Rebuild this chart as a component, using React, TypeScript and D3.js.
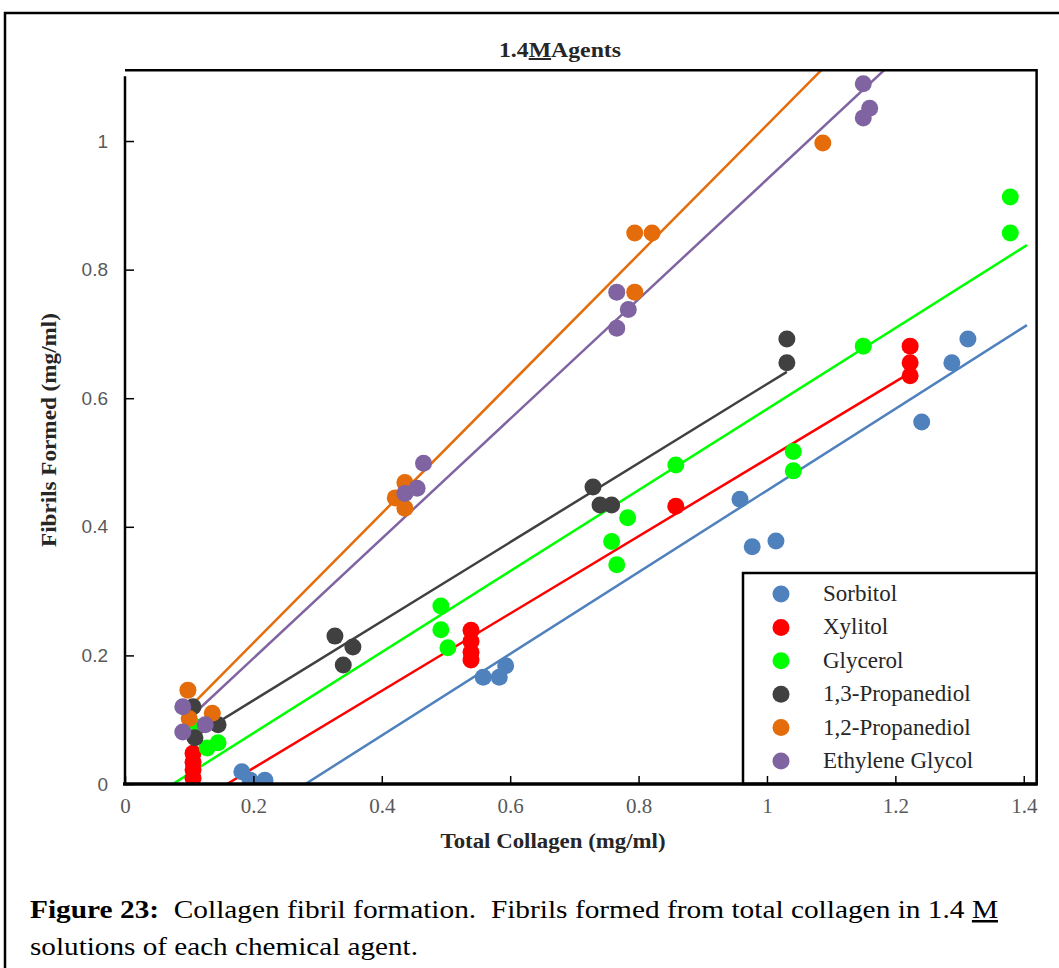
import { useEffect, useRef } from "react";
import * as d3 from "d3";

// series in legend order
const seriesNames = [
  "Sorbitol",
  "Xylitol",
  "Glycerol",
  "1,3-Propanediol",
  "1,2-Propanediol",
  "Ethylene Glycol",
];
const seriesColors = ["#4F81BD", "#FF0000", "#00FF00", "#404040", "#E46C0A", "#8064A2"];

const sorbitolX = [0.182, 0.195, 0.218, 0.558, 0.583, 0.593, 0.958, 0.977, 1.014, 1.241, 1.288, 1.313];
const sorbitolY = [0.019, 0.006, 0.006, 0.166, 0.166, 0.184, 0.443, 0.369, 0.378, 0.563, 0.655, 0.692];

const xylitolX = [0.106, 0.106, 0.106, 0.106, 0.539, 0.539, 0.539, 0.539, 0.858, 1.223, 1.223, 1.223];
const xylitolY = [0.048, 0.034, 0.022, 0.009, 0.239, 0.222, 0.205, 0.193, 0.432, 0.681, 0.655, 0.635];

const glycerolX = [0.109, 0.128, 0.145, 0.492, 0.492, 0.503, 0.758, 0.783, 0.766, 0.858, 1.041, 1.041, 1.15, 1.379, 1.379];
const glycerolY = [0.089, 0.056, 0.064, 0.277, 0.24, 0.212, 0.377, 0.414, 0.341, 0.496, 0.517, 0.487, 0.681, 0.913, 0.857];

const prop13X = [0.106, 0.109, 0.145, 0.327, 0.355, 0.34, 0.729, 0.74, 0.758, 1.031, 1.031];
const prop13Y = [0.12, 0.072, 0.092, 0.23, 0.213, 0.185, 0.462, 0.434, 0.434, 0.692, 0.655];

const prop12X = [0.098, 0.1, 0.136, 0.421, 0.436, 0.436, 0.794, 0.821, 0.794, 1.087];
const prop12Y = [0.146, 0.102, 0.11, 0.445, 0.469, 0.429, 0.857, 0.857, 0.765, 0.997];

const ethyleneX = [0.09, 0.09, 0.125, 0.436, 0.455, 0.465, 0.766, 0.784, 0.766, 1.15, 1.16, 1.15];
const ethyleneY = [0.12, 0.081, 0.092, 0.452, 0.46, 0.499, 0.765, 0.738, 0.709, 1.089, 1.051, 1.036];

// trendlines y = slope * x + intercept, drawn from start to end
const trendSlopes = [0.635, 0.601, 0.63, 0.615, 1.007, 0.931];
const trendIntercepts = [-0.1785, -0.0955, -0.047, 0.007, 0.018, 0.0093];
const trendStart = [0.281, 0.159, 0.075, 0.112, 0.112, 0.117];
const trendEnd = [1.405, 1.215, 1.405, 1.031, 1.42, 1.42];

const xTicks = [0, 0.2, 0.4, 0.6, 0.8, 1, 1.2, 1.4];
const yTicks = [0, 0.2, 0.4, 0.6, 0.8, 1];

const width = 1059;
const height = 968;
const serif = "'Liberation Serif', 'Times New Roman', serif";

export default function App() {
  const ref = useRef<SVGSVGElement | null>(null);

  useEffect(() => {
    if (!ref.current) return;
    const svg = d3.select(ref.current);
    svg.selectAll("*").remove();

    const xs = [sorbitolX, xylitolX, glycerolX, prop13X, prop12X, ethyleneX];
    const ys = [sorbitolY, xylitolY, glycerolY, prop13Y, prop12Y, ethyleneY];

    const x = d3.scaleLinear([0, 1.42], [125, 1036.6]);
    const y = d3.scaleLinear([0, 1.11], [784, 70.3]);

    // outer figure frame
    svg
      .append("rect")
      .attr("x", 5)
      .attr("y", 13)
      .attr("width", 1070)
      .attr("height", 980)
      .attr("fill", "none")
      .attr("stroke", "black")
      .attr("stroke-width", 2.5);

    svg
      .append("clipPath")
      .attr("id", "plotClip")
      .append("rect")
      .attr("x", x(0))
      .attr("y", y(1.11))
      .attr("width", x(1.42) - x(0))
      .attr("height", y(0) - y(1.11));

    // trendlines
    const plot = svg.append("g").attr("clip-path", "url(#plotClip)");
    seriesNames.forEach((_, i) => {
      plot
        .append("line")
        .attr("x1", x(trendStart[i]))
        .attr("y1", y(trendSlopes[i] * trendStart[i] + trendIntercepts[i]))
        .attr("x2", x(trendEnd[i]))
        .attr("y2", y(trendSlopes[i] * trendEnd[i] + trendIntercepts[i]))
        .attr("stroke", seriesColors[i])
        .attr("stroke-width", 2.5);
    });

    // points
    seriesNames.forEach((_, i) => {
      plot
        .selectAll(`.pt${i}`)
        .data(d3.range(xs[i].length))
        .enter()
        .append("circle")
        .attr("cx", (j) => x(xs[i][j]))
        .attr("cy", (j) => y(ys[i][j]))
        .attr("r", 8.5)
        .attr("fill", seriesColors[i]);
    });

    // plot frame: top and right border
    svg
      .append("path")
      .attr("d", `M${x(0)},${y(1.11)}H${x(1.42)}V${y(0)}`)
      .attr("fill", "none")
      .attr("stroke", "black")
      .attr("stroke-width", 2.5);

    // legend
    const lg = svg.append("g");
    lg.append("rect")
      .attr("x", 743)
      .attr("y", 573)
      .attr("width", x(1.42) - 743)
      .attr("height", y(0) - 573)
      .attr("fill", "white")
      .attr("stroke", "black")
      .attr("stroke-width", 2.5);
    seriesNames.forEach((name, i) => {
      const cy = 594 + i * 33.4;
      lg.append("circle").attr("cx", 781).attr("cy", cy).attr("r", 8.5).attr("fill", seriesColors[i]);
      lg.append("text")
        .attr("x", 823)
        .attr("y", cy + 7)
        .attr("font-family", serif)
        .attr("font-size", 23)
        .attr("fill", "#262626")
        .text(name);
    });

    // x axis
    const xAxis = svg
      .append("g")
      .attr("transform", `translate(0,${y(0)})`)
      .call(d3.axisBottom(x).tickValues(xTicks).tickSize(-8).tickFormat(d3.format("~g")));
    xAxis.select(".domain").remove();
    xAxis.selectAll("line").attr("stroke", "black").attr("stroke-width", 1.5);
    xAxis
      .selectAll("text")
      .attr("y", 29)
      .attr("dy", null)
      .attr("font-family", serif)
      .attr("font-size", 21)
      .attr("fill", "#595959");
    svg
      .append("line")
      .attr("x1", x(0) - 2)
      .attr("x2", x(1.42) + 1)
      .attr("y1", y(0))
      .attr("y2", y(0))
      .attr("stroke", "black")
      .attr("stroke-width", 3.5);

    // y axis
    const yAxis = svg
      .append("g")
      .attr("transform", `translate(${x(0)},0)`)
      .call(d3.axisLeft(y).tickValues(yTicks).tickSize(-9).tickPadding(17).tickFormat(d3.format("~g")));
    yAxis.select(".domain").remove();
    yAxis.selectAll("line").attr("stroke", "black").attr("stroke-width", 1.5);
    yAxis
      .selectAll("text")
      .attr("font-family", "'Liberation Sans', Arial, sans-serif")
      .attr("font-size", 19)
      .attr("fill", "#595959");
    svg
      .append("line")
      .attr("x1", x(0))
      .attr("x2", x(0))
      .attr("y1", y(1.11) + 6)
      .attr("y2", y(0))
      .attr("stroke", "black")
      .attr("stroke-width", 2.5);

    // title
    const title = svg
      .append("text")
      .attr("x", 560)
      .attr("y", 57)
      .attr("text-anchor", "middle")
      .attr("font-family", serif)
      .attr("font-size", 20)
      .attr("font-weight", "bold")
      .attr("fill", "#262626")
      .attr("textLength", 122)
      .attr("lengthAdjust", "spacingAndGlyphs");
    title.append("tspan").text("1.4");
    title.append("tspan").attr("text-decoration", "underline").text("M");
    title.append("tspan").text("Agents");

    // axis titles
    svg
      .append("text")
      .attr("x", 553)
      .attr("y", 848)
      .attr("text-anchor", "middle")
      .attr("font-family", serif)
      .attr("font-size", 20)
      .attr("font-weight", "bold")
      .attr("fill", "#262626")
      .attr("textLength", 225)
      .attr("lengthAdjust", "spacingAndGlyphs")
      .text("Total Collagen (mg/ml)");
    svg
      .append("text")
      .attr("transform", "translate(56,430) rotate(-90)")
      .attr("text-anchor", "middle")
      .attr("font-family", serif)
      .attr("font-size", 20)
      .attr("font-weight", "bold")
      .attr("fill", "#262626")
      .attr("textLength", 234)
      .attr("lengthAdjust", "spacingAndGlyphs")
      .text("Fibrils Formed (mg/ml)");

    // caption
    const cap1 = svg
      .append("text")
      .attr("x", 30)
      .attr("y", 918)
      .attr("font-family", serif)
      .attr("font-size", 25)
      .attr("textLength", 968)
      .attr("lengthAdjust", "spacingAndGlyphs");
    cap1.append("tspan").attr("font-weight", "bold").text("Figure 23:");
    cap1.append("tspan").text("\u00a0 Collagen fibril formation.\u00a0 Fibrils formed from total collagen in 1.4 ");
    cap1.append("tspan").attr("text-decoration", "underline").text("M");
    svg
      .append("text")
      .attr("x", 30)
      .attr("y", 955)
      .attr("font-family", serif)
      .attr("font-size", 25)
      .attr("textLength", 388)
      .attr("lengthAdjust", "spacingAndGlyphs")
      .text("solutions of each chemical agent.");
  }, []);

  return (
    <svg
      ref={ref}
      width={width}
      height={height}
      style={{ position: "absolute", left: 0, top: 0, background: "white" }}
    />
  );
}
